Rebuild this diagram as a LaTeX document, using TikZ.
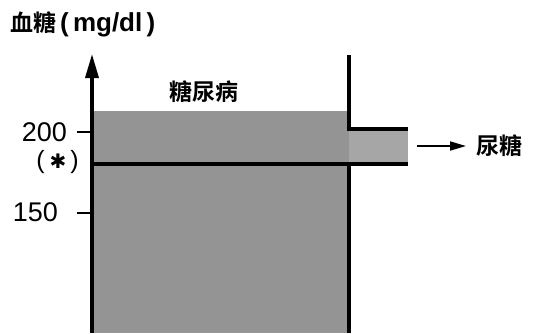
\documentclass[tikz,border=0pt]{standalone}
\usepackage{fontspec}
\setmainfont{Liberation Sans}
\newfontfamily\cjk{Noto Sans CJK SC}[BoldFont={Noto Sans CJK SC Bold}]
\newfontfamily\dvs{DejaVu Sans}
\usetikzlibrary{arrows.meta}
\begin{document}
\begin{tikzpicture}[x=1pt,y=-1pt,
  wall/.style={line width=3.5pt},
  thin/.style={line width=1.8pt},
  lbl/.style={inner sep=0pt, font=\fontsize{27}{29}\selectfont},
  cj/.style={inner sep=0pt, font=\cjk\bfseries\fontsize{23}{25}\selectfont}]
\useasboundingbox (0,0) rectangle (533,333);
% fill
\fill[black!42] (92,111) rectangle (349,333);
\fill[black!35] (349,129) rectangle (408,164);
% coordinates
\coordinate (axb) at (92,333);
\coordinate (axt) at (92,54);
\coordinate (wt) at (349,55);
\coordinate (w1) at (349,129);
\coordinate (o1) at (408,129);
\coordinate (l0) at (92,164);
\coordinate (o2) at (408,164);
\coordinate (w2) at (349,164);
\coordinate (wb) at (349,333);
% axis
\draw[wall,-{Triangle[length=24pt,width=13pt]}] (axb) -- (axt);
% right wall and outlet
\draw[wall] (wt) -- (w1) -- (o1);
\draw[wall] (l0) -- (o2);
\draw[wall] (w2) -- (wb);
% ticks
\coordinate (t2a) at (77,132); \coordinate (t2b) at (92,132);
\coordinate (t1a) at (77,213); \coordinate (t1b) at (92,213);
\draw[thin] (t2a) -- (t2b);
\draw[thin] (t1a) -- (t1b);
% labels
\node[cj, anchor=west] (title) at (10,24) {血糖\,{\fontspec{Liberation Sans}\fontsize{26}{28}\selectfont(\,mg/dl\,)}};
\node[lbl, anchor=east] (l200) at (67,132) {200};
\node[lbl, anchor=east, font=\fontsize{25}{27}\selectfont] (star) at (79,162) {(\hspace{5pt}{\dvs\fontsize{20}{22}\selectfont ✱}\hspace{4pt})};
\node[lbl, anchor=east] (l150) at (58,212) {150};
\node[cj] (dm) at (204,92) {糖尿病};
\node[cj, anchor=west] (ug) at (476,146) {尿糖};
\coordinate (arS) at (417,146);
\draw[thin,-{Triangle[length=16pt,width=9pt]}] (arS) -- (ug.west -| 466,0);
\end{tikzpicture}
\end{document}
